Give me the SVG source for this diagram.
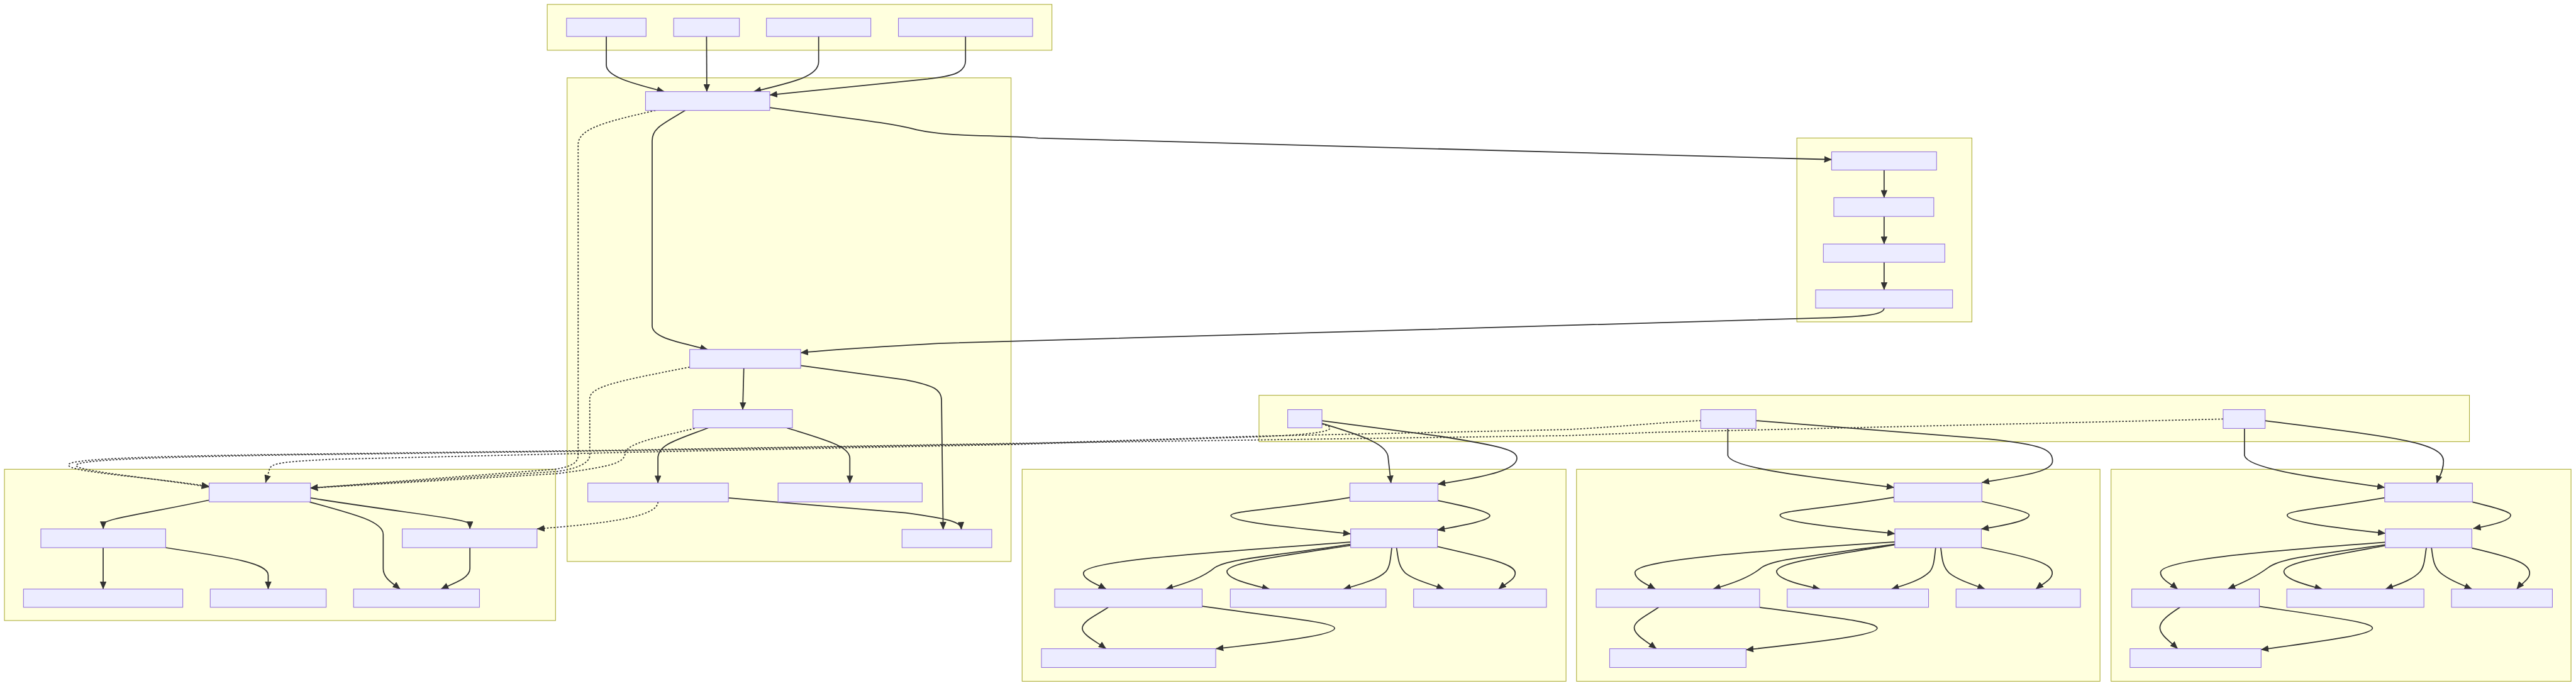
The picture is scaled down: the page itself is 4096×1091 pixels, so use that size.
<svg xmlns="http://www.w3.org/2000/svg" width="4096" height="1091" viewBox="0 0 4096 1091">
<style>
.cl{fill:#ffffde;stroke:#aaaa33;stroke-width:1.2}
.nd{fill:#ececff;stroke:#9370db;stroke-width:1.2}
.e{fill:none;stroke:#333333;stroke-width:2}
.d{fill:none;stroke:#333333;stroke-width:2;stroke-dasharray:3 3}
</style>
<defs>
<marker id="ah" markerUnits="userSpaceOnUse" markerWidth="14" markerHeight="12" refX="13.5" refY="6" orient="auto">
<path d="M0,0 L14,6 L0,12 z" fill="#333333"/>
</marker>
</defs>
<rect width="4096" height="1091" fill="#ffffff"/>
<g transform="scale(0.87803)">
<g id="clusters">
<rect id="clusterA" class="cl" x="991" y="8" width="914" height="83"/>
<rect id="clusterB" class="cl" x="1027" y="141" width="804" height="876"/>
<rect id="clusterC" class="cl" x="3254" y="250" width="317" height="333"/>
<rect id="clusterD" class="cl" x="8" y="850" width="998" height="274"/>
<rect id="clusterE" class="cl" x="2280" y="716" width="2192" height="84"/>
<rect id="clusterF" class="cl" x="1851" y="850" width="985" height="384"/>
<rect id="clusterG" class="cl" x="2855" y="850" width="948" height="384"/>
<rect id="clusterH" class="cl" x="3823" y="850" width="833" height="384"/>
</g>
<g id="connectors">
<path class="e" marker-end="url(#ah)" d="M1098,66 L1098,118 C1098,138 1140,150 1203,166"/>
<path class="e" marker-end="url(#ah)" d="M1279.5,66 L1280,166"/>
<path class="e" marker-end="url(#ah)" d="M1482.5,66 L1482.5,112 C1482.5,138 1440,148 1365,166"/>
<path class="e" marker-end="url(#ah)" d="M1748.5,66 L1748.5,110 C1748.5,134 1720,138 1680,143 L1394,172"/>
<path class="e" marker-end="url(#ah)" d="M1241,200 C1200,225 1181,232 1181,255 L1181,590 C1181,612 1230,620 1281.5,633"/>
<path class="e" marker-end="url(#ah)" d="M1394,195 C1540,215 1610,222 1660,235 C1720,248 1790,244 1880,250 L3317,289"/>
<path class="e" marker-end="url(#ah)" d="M3412,558 C3412,570 3380,573 3300,576 L1700,622 C1600,628 1520,632 1450,639"/>
<path class="e" marker-end="url(#ah)" d="M1347,667 L1345,742"/>
<path class="e" marker-end="url(#ah)" d="M1450,662 L1640,688 C1690,698 1705,705 1705,725 L1708,959"/>
<path class="e" marker-end="url(#ah)" d="M1282.5,775 C1225,797 1191.5,805 1191.5,830 L1191.5,875"/>
<path class="e" marker-end="url(#ah)" d="M1425,775 C1495,797 1539,808 1539,830 L1539,875"/>
<path class="e" marker-end="url(#ah)" d="M1319,902 L1640,929 C1720,940 1740,945 1741,959"/>
<path class="e" marker-end="url(#ah)" d="M3412,308 L3412,358"/>
<path class="e" marker-end="url(#ah)" d="M3412,392 L3412,442"/>
<path class="e" marker-end="url(#ah)" d="M3412,475 L3412,525"/>
<path class="e" marker-end="url(#ah)" d="M378,906 C250,933 187,940 187,950 L187,958"/>
<path class="e" marker-end="url(#ah)" d="M562,902 C760,933 851,940 851,950 L851,958"/>
<path class="e" marker-end="url(#ah)" d="M560,909 C645,932 694,945 694,968 L694,1030 C694,1048 712,1057 724.6,1067"/>
<path class="e" marker-end="url(#ah)" d="M851,992 L851,1030 C851,1048 820,1057 798.7,1067"/>
<path class="e" marker-end="url(#ah)" d="M186.8,992 L186.8,1067"/>
<path class="e" marker-end="url(#ah)" d="M300,992 C420,1010 485.7,1020 485.7,1042 L485.7,1067"/>
<path class="d" marker-end="url(#ah)" d="M1187,200 C1100,220 1047,232 1047,262 L1047,825 C1047,840 1030,846 1005,850 L562,884"/>
<path class="d" marker-end="url(#ah)" d="M1249,665 C1120,690 1068,700 1068,722 L1068,825 C1068,840 1040,850 1008,854 L562,884"/>
<path class="d" marker-end="url(#ah)" d="M1258,776 C1175,795 1133,805 1132,822 C1130,840 1100,846 1008,858 L562,884"/>
<path class="d" marker-end="url(#ah)" d="M1191.5,909 C1191.5,936 1100,948 972.6,958"/>
<path class="d" marker-end="url(#ah)" d="M4026,759 L3000,783 L2840,789 L1840,803 L1150,815 L520,823 C300,826 124,830 124,842 C124,855 250,862 378.7,881"/>
<path class="d" marker-end="url(#ah)" d="M3080,762 C3020,764 2950,772 2840,778 L2280,790 L1840,804 L1150,816 L520,824 C300,828 138,832 138,843 C138,853 260,864 378.7,882"/>
<path class="d" marker-end="url(#ah)" d="M2394,768 C2425,776 2415,786 2280,791 L1840,805 L1150,819 L600,832 C520,836 490,838 488,850 L481,874"/>
<path class="e" marker-end="url(#ah)" d="M2394,767 C2470,790 2514,805 2514,830 L2519,875"/>
<path class="e" marker-end="url(#ah)" d="M2394,762 L2600,789 C2720,808 2747,815 2747,830 C2747,850 2700,862 2604,877"/>
<path class="e" marker-end="url(#ah)" d="M3129,776 L3129,825 C3135,850 3300,866 3430,883"/>
<path class="e" marker-end="url(#ah)" d="M3180,762 L3600,795 C3700,805 3717,815 3717,835 C3717,855 3660,862 3589,874"/>
<path class="e" marker-end="url(#ah)" d="M4064.6,776 L4064.6,825 C4070,850 4200,866 4318.6,883"/>
<path class="e" marker-end="url(#ah)" d="M4102,762 C4320,790 4425,800 4425,835 C4425,855 4416,865 4413,875"/>
<path class="e" marker-end="url(#ah)" d="M2445,901 C2320,922 2229,925 2229,934 C2229,945 2330,955 2446,967"/>
<path class="e" marker-end="url(#ah)" d="M2604,906.6 C2670,920 2698,928 2698,934 C2698,942 2660,950 2603,960"/>
<path class="e" marker-end="url(#ah)" d="M2446,982 C2200,1000 1962,1015 1962,1038 C1962,1050 1990,1060 2003,1067"/>
<path class="e" marker-end="url(#ah)" d="M2446,986 C2300,1008 2225,1012 2200,1028 C2180,1045 2150,1056 2111,1067"/>
<path class="e" marker-end="url(#ah)" d="M2446,988 C2300,1010 2222,1020 2222,1035 C2222,1048 2260,1058 2299,1067"/>
<path class="e" marker-end="url(#ah)" d="M2520.5,992 C2518,1010 2518,1025 2510,1035 C2495,1050 2465,1058 2433,1067"/>
<path class="e" marker-end="url(#ah)" d="M2529,992 C2532,1010 2532,1025 2545,1038 C2560,1050 2590,1058 2615,1067"/>
<path class="e" marker-end="url(#ah)" d="M2603,990 C2700,1012 2744,1022 2744,1038 C2744,1050 2725,1058 2714,1067"/>
<path class="e" marker-end="url(#ah)" d="M2007,1100 C1985,1115 1960,1125 1960,1138 C1960,1150 1985,1162 2003,1175"/>
<path class="e" marker-end="url(#ah)" d="M2177,1098 C2350,1122 2417,1128 2417,1138 C2417,1150 2320,1162 2202,1175"/>
<path class="e" marker-end="url(#ah)" d="M3430,900.7 C3300,922 3223.5,925 3223.5,933 C3223.5,945 3320,955 3431.5,966.7"/>
<path class="e" marker-end="url(#ah)" d="M3589,908.3 C3650,922 3674.6,928 3674.6,933 C3674.6,942 3640,950 3588,958.3"/>
<path class="e" marker-end="url(#ah)" d="M3431.5,981.7 C3150,1000 2960.8,1015 2960.8,1037 C2960.8,1050 2985,1060 2997.7,1067"/>
<path class="e" marker-end="url(#ah)" d="M3431.5,985.7 C3280,1008 3215,1012 3190,1028 C3170,1045 3140,1056 3102.3,1067"/>
<path class="e" marker-end="url(#ah)" d="M3431.5,986.7 C3290,1010 3217.4,1020 3217.4,1035 C3217.4,1048 3255,1058 3296,1067"/>
<path class="e" marker-end="url(#ah)" d="M3505.4,992 C3503,1010 3503,1025 3495,1035 C3480,1050 3455,1058 3425.4,1067"/>
<path class="e" marker-end="url(#ah)" d="M3514.6,992 C3517,1010 3517,1025 3530,1038 C3545,1050 3570,1058 3594.6,1067"/>
<path class="e" marker-end="url(#ah)" d="M3588,991.7 C3690,1012 3716.5,1022 3716.5,1038 C3716.5,1050 3698,1058 3687,1067"/>
<path class="e" marker-end="url(#ah)" d="M3003.8,1100 C2982,1115 2959.5,1125 2959.5,1137 C2959.5,1150 2982,1162 2999.5,1175"/>
<path class="e" marker-end="url(#ah)" d="M3186.6,1100 C3350,1122 3399.5,1128 3399.5,1138 C3399.5,1150 3300,1162 3162,1177"/>
<path class="e" marker-end="url(#ah)" d="M4318.6,901.7 C4200,922 4141.9,925 4141.9,933 C4141.9,945 4220,955 4319.7,966"/>
<path class="e" marker-end="url(#ah)" d="M4477.4,909.3 C4530,922 4546.8,928 4546.8,933 C4546.8,942 4520,950 4479,957.3"/>
<path class="e" marker-end="url(#ah)" d="M4319.7,982.3 C4080,1000 3912.6,1015 3912.6,1037 C3912.6,1050 3935,1060 3943.5,1067"/>
<path class="e" marker-end="url(#ah)" d="M4319.7,986.7 C4170,1008 4130,1012 4107.7,1028 C4085,1045 4060,1056 4034.5,1067"/>
<path class="e" marker-end="url(#ah)" d="M4319.7,988.3 C4200,1010 4136,1020 4136,1035 C4136,1048 4170,1058 4205.3,1067"/>
<path class="e" marker-end="url(#ah)" d="M4394,992 C4391,1010 4391,1025 4383,1035 C4370,1050 4345,1058 4320.2,1067"/>
<path class="e" marker-end="url(#ah)" d="M4403.2,992 C4406,1010 4406,1025 4420,1038 C4435,1050 4455,1058 4476.4,1067"/>
<path class="e" marker-end="url(#ah)" d="M4476.4,992.7 C4560,1012 4581,1022 4581,1038 C4581,1050 4565,1058 4557.7,1067"/>
<path class="e" marker-end="url(#ah)" d="M3947.8,1100 C3925,1115 3911.5,1125 3911.5,1137 C3911.5,1150 3930,1162 3943.5,1175"/>
<path class="e" marker-end="url(#ah)" d="M4091.5,1098.3 C4250,1122 4296.4,1128 4296.4,1138 C4296.4,1150 4200,1162 4094.7,1176.7"/>
</g>
<g id="nodeA1"><rect class="nd" x="1026" y="33" width="144" height="33"/></g>
<g id="nodeA2"><rect class="nd" x="1220" y="33" width="119" height="33"/></g>
<g id="nodeA3"><rect class="nd" x="1388" y="33" width="189" height="33"/></g>
<g id="nodeA4"><rect class="nd" x="1627" y="33" width="243" height="33"/></g>
<g id="nodeB1"><rect class="nd" x="1169" y="166" width="225" height="34"/></g>
<g id="nodeB2"><rect class="nd" x="1249" y="633" width="201" height="34"/></g>
<g id="nodeB3"><rect class="nd" x="1255" y="742" width="180" height="33"/></g>
<g id="nodeB4"><rect class="nd" x="1064.5" y="875" width="254.5" height="34"/></g>
<g id="nodeB5"><rect class="nd" x="1409" y="875" width="261" height="34"/></g>
<g id="nodeB6"><rect class="nd" x="1633.5" y="959" width="162.5" height="33"/></g>
<g id="nodeC1"><rect class="nd" x="3317" y="275" width="190" height="33"/></g>
<g id="nodeC2"><rect class="nd" x="3321" y="358" width="181" height="34"/></g>
<g id="nodeC3"><rect class="nd" x="3302" y="442" width="220" height="33"/></g>
<g id="nodeC4"><rect class="nd" x="3288" y="525" width="248" height="33"/></g>
<g id="nodeD1"><rect class="nd" x="378.7" y="875" width="183.6" height="34"/></g>
<g id="nodeD2"><rect class="nd" x="74" y="958" width="226" height="34"/></g>
<g id="nodeD3"><rect class="nd" x="728.5" y="958" width="244" height="34"/></g>
<g id="nodeD4"><rect class="nd" x="42.5" y="1067" width="288.5" height="33"/></g>
<g id="nodeD5"><rect class="nd" x="380.7" y="1067" width="210" height="33"/></g>
<g id="nodeD6"><rect class="nd" x="640.3" y="1067" width="228" height="33"/></g>
<g id="nodeE1"><rect class="nd" x="2332" y="742" width="62" height="33"/></g>
<g id="nodeE2"><rect class="nd" x="3080" y="742" width="100" height="34"/></g>
<g id="nodeE3"><rect class="nd" x="4026" y="742" width="76" height="34"/></g>
<g id="nodeF1"><rect class="nd" x="2444.6" y="875" width="159.4" height="33"/></g>
<g id="nodeF2"><rect class="nd" x="2446" y="958" width="157" height="34"/></g>
<g id="nodeF3"><rect class="nd" x="1910" y="1067" width="267" height="33"/></g>
<g id="nodeF4"><rect class="nd" x="2228" y="1067" width="282" height="33"/></g>
<g id="nodeF5"><rect class="nd" x="2560" y="1067" width="240.5" height="33"/></g>
<g id="nodeF6"><rect class="nd" x="1886" y="1175" width="315.6" height="34"/></g>
<g id="nodeG1"><rect class="nd" x="3430" y="875" width="159" height="34"/></g>
<g id="nodeG2"><rect class="nd" x="3431.5" y="958" width="156.5" height="34"/></g>
<g id="nodeG3"><rect class="nd" x="2890.6" y="1067" width="296" height="33"/></g>
<g id="nodeG4"><rect class="nd" x="3236.5" y="1067" width="256" height="33"/></g>
<g id="nodeG5"><rect class="nd" x="3542.3" y="1067" width="225.2" height="33"/></g>
<g id="nodeG6"><rect class="nd" x="2915" y="1175" width="247" height="34"/></g>
<g id="nodeH1"><rect class="nd" x="4318.6" y="875" width="158.8" height="34"/></g>
<g id="nodeH2"><rect class="nd" x="4319.7" y="958" width="156.7" height="34"/></g>
<g id="nodeH3"><rect class="nd" x="3860.5" y="1067" width="231" height="33"/></g>
<g id="nodeH4"><rect class="nd" x="4141.3" y="1067" width="248.3" height="33"/></g>
<g id="nodeH5"><rect class="nd" x="4439.5" y="1067" width="182.7" height="33"/></g>
<g id="nodeH6"><rect class="nd" x="3857.3" y="1175" width="237.4" height="34"/></g>
</g>
</svg>
